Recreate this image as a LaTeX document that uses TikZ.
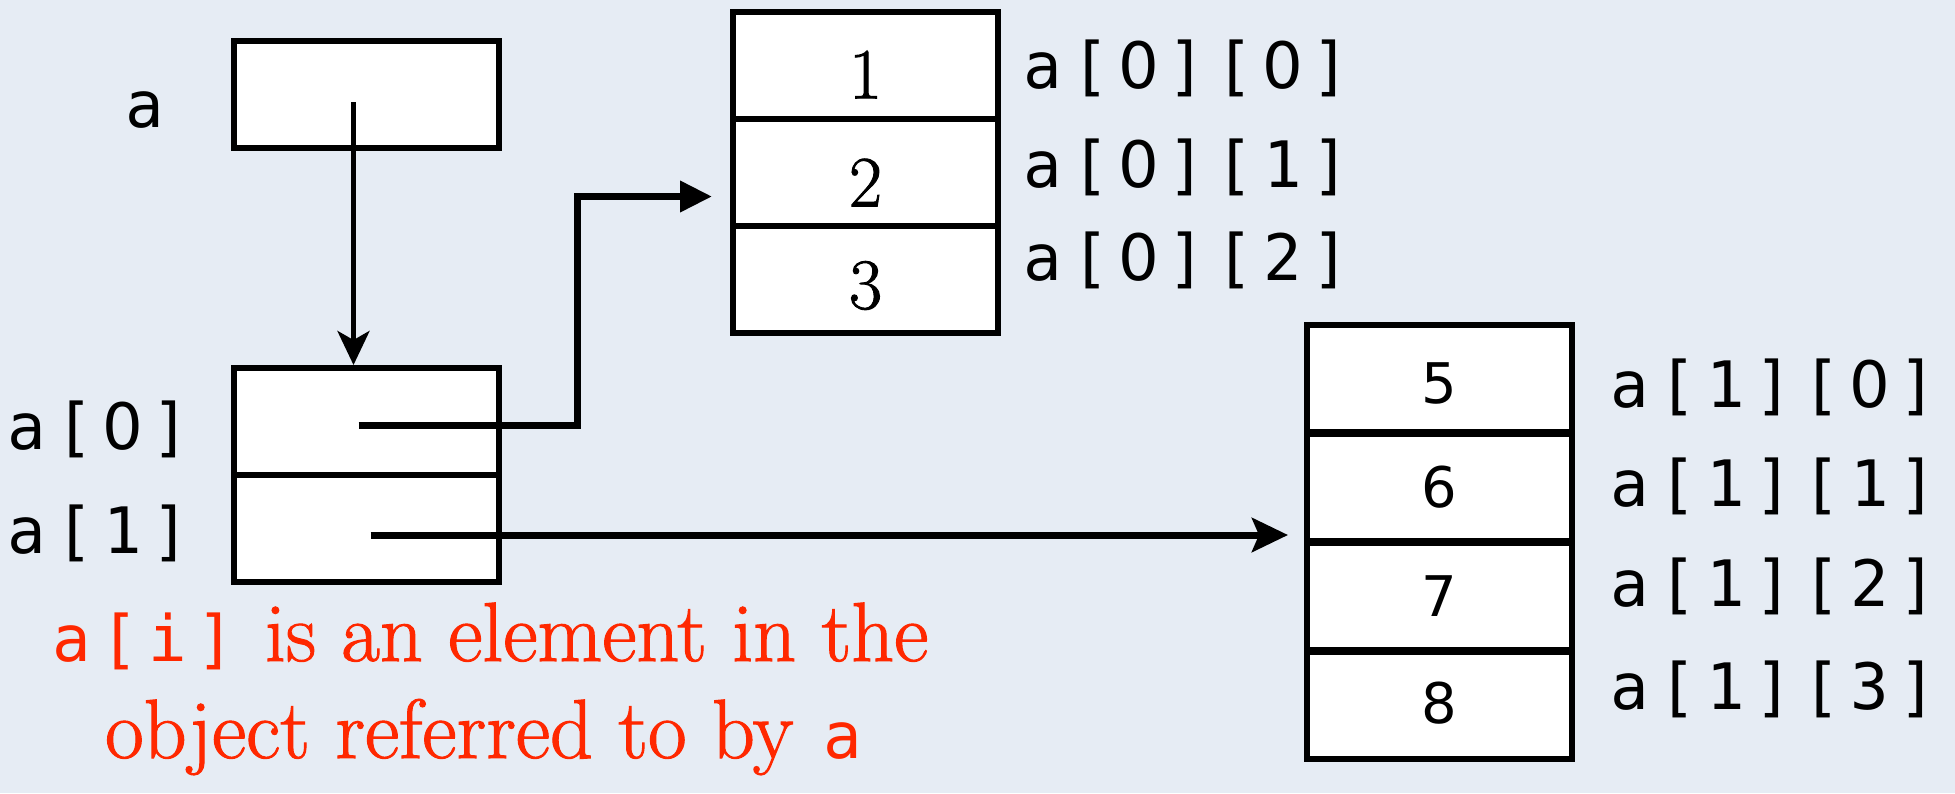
\documentclass[tikz,border=0pt]{standalone}
\usepackage{fontspec}
\usetikzlibrary{arrows.meta,calc}
\newfontfamily\monof{DejaVu Sans Mono}
\newfontfamily\sansf{DejaVu Sans}
\newfontfamily\serf[FakeBold=1.3]{Latin Modern Roman}
\definecolor{bgc}{RGB}{230,236,244}
\definecolor{redtxt}{RGB}{255,40,0}
\newlength\pitch
\setlength\pitch{48pt}
\newcommand\zz{{\sansf 0}}
\def\spc#1{\spci#1\relax}
\def\spci#1{\ifx#1\relax\else\makebox[\pitch][c]{#1}\expandafter\spci\fi}
\begin{document}
\begin{tikzpicture}[x=1pt,y=-1pt,
  cell/.style={draw=black,fill=white,line width=6pt,minimum width=265pt,minimum height=107pt,inner sep=0pt},
  lbl/.style={font=\monof\fontsize{64}{64}\selectfont,anchor=base west,inner sep=0pt},
  ser/.style={font=\serf\fontsize{72}{72}\selectfont,inner sep=0pt},
  snum/.style={font=\sansf\fontsize{56}{56}\selectfont},
  redl/.style={text=redtxt,font=\serf\fontsize{84}{84}\selectfont,anchor=base,inner sep=0pt},
  ptrA/.style={line width=5pt,-{Stealth[length=34pt,width=32pt,inset=9pt]}},
  ptrB/.style={line width=7pt,-{Triangle[length=32pt,width=30pt]}},
  ptrC/.style={line width=7pt,-{Stealth[length=36pt,width=34pt,inset=7pt]}}]
\fill[bgc] (0,0) rectangle (1955,793);
\useasboundingbox (0,0) rectangle (1955,793);
% boxes
\node[cell] (abox) at (366.5,94) {};
\node[cell] (a0) at (366.5,421.5) {};
\node[cell] (a1) at (366.5,528) {};
\node[cell] (c1) at (865.5,65.5) {};
\node[cell] (c2) at (865.5,172.5) {};
\node[cell] (c3) at (865.5,279.5) {};
\node[cell] (d5) at (1439.5,378.5) {};
\node[cell] (d6) at (1439.5,487.5) {};
\node[cell] (d7) at (1439.5,596.5) {};
\node[cell] (d8) at (1439.5,705.5) {};
% cell contents
\node[ser] (t1) at ([yshift=-9pt]c1.center) {1};
\node[ser] (t2) at ([yshift=-10pt]c2.center) {2};
\node[ser] (t3) at ([yshift=-6pt]c3.center) {3};
\node[snum] (t5) at ([yshift=-5pt]d5.center) {5};
\node[snum] (t6) at (d6.center) {6};
\node[snum] (t7) at (d7.center) {7};
\node[snum] (t8) at ([yshift=2pt]d8.center) {8};
% labels
\node[lbl] (la) at (121,127) {\spc{a}};
\node[lbl] (la0) at (3,449) {\spc{a[\zz]}};
\node[lbl] (la1) at (3,553) {\spc{a[1]}};
\node[lbl] (l00) at (1019,88) {\spc{a[\zz][\zz]}};
\node[lbl] (l01) at (1019,187) {\spc{a[\zz][1]}};
\node[lbl] (l02) at (1019,280) {\spc{a[\zz][2]}};
\node[lbl] (l10) at (1606,407) {\spc{a[1][\zz]}};
\node[lbl] (l11) at (1606,506) {\spc{a[1][1]}};
\node[lbl] (l12) at (1606,606) {\spc{a[1][2]}};
\node[lbl] (l13) at (1606,709) {\spc{a[1][3]}};
% red text
\node[redl] (r1) at (488,661) {{\monof\fontsize{64}{64}\selectfont\spc{a[i]}} is an element in the};
\node[redl] (r2) at (486,758) {object referred to by {\monof\fontsize{64}{64}\selectfont\spc{a}}};
% connectors
\draw[ptrA] ([xshift=-13pt,yshift=-8pt]abox.center) -- ([xshift=-13pt]abox.center |- a0.north);
\draw[ptrB] ([xshift=-8pt,yshift=-4pt]a0.center) -- ++(219,0) |- ($(c2.west)+(-18,24)$);
\draw[ptrC] ([xshift=4pt,yshift=-7pt]a1.center) coordinate (s1) -- ($(s1 -| d7.west)+(-16,0)$);
\end{tikzpicture}
\end{document}
